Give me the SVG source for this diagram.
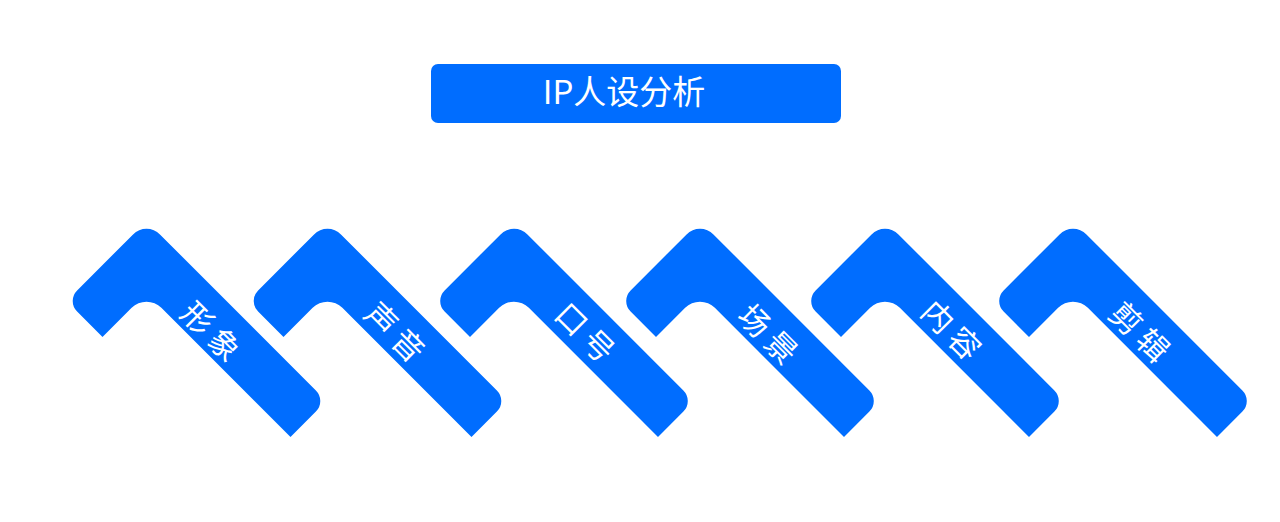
<svg xmlns="http://www.w3.org/2000/svg" xmlns:xlink="http://www.w3.org/1999/xlink" width="1280" height="522" viewBox="0 0 1280 522">
  <style>
    .blue { fill: #006DFF; }
    .title { font-family: "Noto Sans CJK SC", "Liberation Sans", sans-serif; font-size: 33px; fill: #FFFFFF; }
    .lbl { font-family: "Noto Sans CJK SC", sans-serif; font-size: 31px; fill: #FFFFFF; letter-spacing: 7px; }
  </style>
  <defs>
    <path id="chev" d="M-44,116 L-69.39,90.61 A15,15 0 0 1 -69.39,69.39 L-13.44,13.44 A19,19 0 0 1 13.44,13.44 L169.39,169.39 A15,15 0 0 1 169.39,190.61 L144,216 L14.85,86.85 A21,21 0 0 0 -14.85,86.85 Z"/>
  </defs>
  <rect width="1280" height="522" fill="#FFFFFF"/>
  <g id="title">
    <rect class="blue" x="431" y="64" width="410" height="59" rx="7"/>
    <text class="title" x="624" y="104" text-anchor="middle">IP人设分析</text>
  </g>
  <g id="connectors"></g>
  <g id="node-xingxiang">
    <use href="#chev" class="blue" x="146.5" y="221"/>
    <text class="lbl" transform="translate(211,331.5) rotate(45)" x="3.5" y="11.5" text-anchor="middle">形象</text>
  </g>
  <g id="node-shengyin">
    <use href="#chev" class="blue" x="327.5" y="221"/>
    <text class="lbl" transform="translate(395,332) rotate(45)" x="3.5" y="11.5" text-anchor="middle">声音</text>
  </g>
  <g id="node-kouhao">
    <use href="#chev" class="blue" x="514" y="221"/>
    <text class="lbl" transform="translate(585,332.5) rotate(45)" x="3.5" y="11.5" text-anchor="middle">口号</text>
  </g>
  <g id="node-changjing">
    <use href="#chev" class="blue" x="700" y="221"/>
    <text class="lbl" transform="translate(768,334) rotate(45)" x="3.5" y="11.5" text-anchor="middle">场景</text>
  </g>
  <g id="node-neirong">
    <use href="#chev" class="blue" x="885" y="221"/>
    <text class="lbl" transform="translate(951.5,330) rotate(45)" x="3.5" y="11.5" text-anchor="middle">内容</text>
  </g>
  <g id="node-jianji">
    <use href="#chev" class="blue" x="1073" y="221"/>
    <text class="lbl" transform="translate(1139.5,332) rotate(45)" x="3.5" y="11.5" text-anchor="middle">剪辑</text>
  </g>
</svg>
